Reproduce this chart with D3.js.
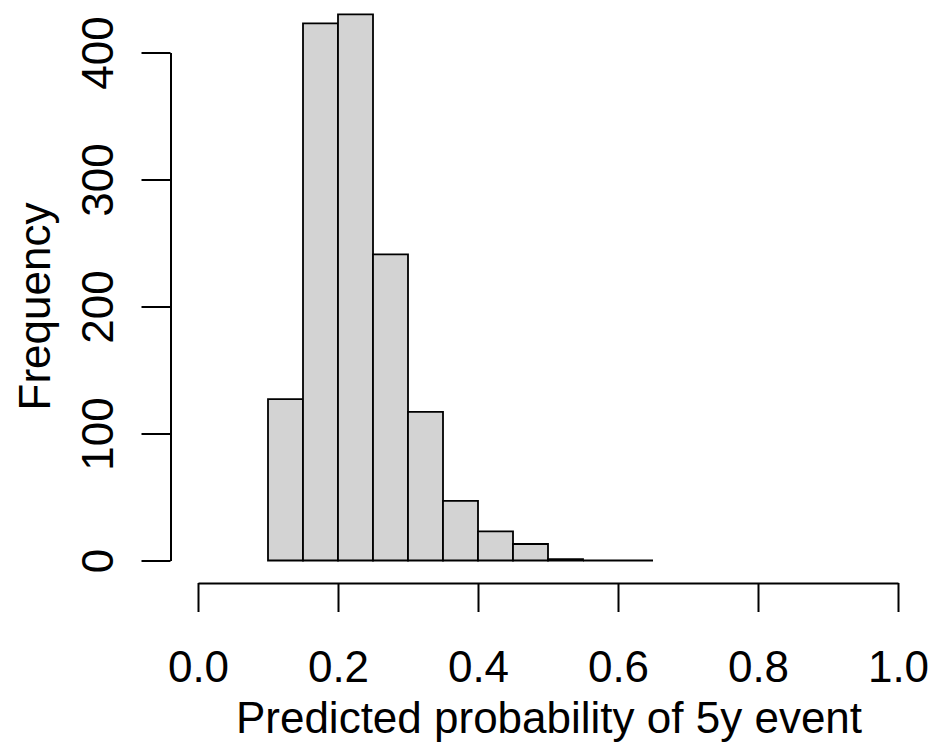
<!DOCTYPE html>
<html lang="en">
<head>
    <meta charset="UTF-8">
    <title>Predicted probability histogram</title>
    <style>
        body {
            margin: 0;
            background: #fff;
        }
        svg text {
            font-family: "Liberation Sans", Arial, sans-serif;
            fill: #000;
        }
    </style>
</head>
<body>
    <div id="chart"></div>
    <script src="https://d3js.org/d3.v7.min.js"></script>
    <script>
        // histogram bins (left edges, width 0.05) and counts
        var binStarts = [0.10, 0.15, 0.20, 0.25, 0.30, 0.35, 0.40, 0.45, 0.50, 0.55, 0.60];
        var counts    = [127, 423, 430, 241, 117, 47, 23, 13, 1, 0, 0];
        var binWidth  = 0.05;
        var xTicks = [0, 0.2, 0.4, 0.6, 0.8, 1.0];
        var yTicks = [0, 100, 200, 300, 400];

        var width = 935, height = 747;

        var svg = d3.select("#chart")
            .append("svg")
            .attr("width", width)
            .attr("height", height);

        var x = d3.scaleLinear().domain([0, 1]).range([198, 898]);
        var y = d3.scaleLinear().domain([0, 400]).range([560.5, 52.5]);

        var bins = binStarts.map((b, i) => ({x0: b, x1: b + binWidth, n: counts[i]}));

        // bars as closed paths so empty bins still show as a line (like R's hist)
        svg.selectAll("path.bar")
            .data(bins)
            .enter()
            .append("path")
            .attr("class", "bar")
            .attr("d", d => {
                var p = d3.path();
                p.moveTo(x(d.x0), y(0));
                p.lineTo(x(d.x0), y(d.n));
                p.lineTo(x(d.x1), y(d.n));
                p.lineTo(x(d.x1), y(0));
                p.closePath();
                return p.toString();
            })
            .attr("fill", "#d3d3d3")
            .attr("stroke", "#000")
            .attr("stroke-width", 1.8);

        // x axis (R style: detached, ticks pointing down)
        var xAxis = d3.axisBottom(x)
            .tickValues(xTicks)
            .tickSize(29)
            .tickSizeOuter(0)
            .tickFormat(d3.format(".1f"));

        var gx = svg.append("g")
            .attr("transform", "translate(0,583)")
            .call(xAxis);
        gx.select(".domain").attr("stroke", "#000").attr("stroke-width", 2);
        gx.selectAll(".tick line").attr("stroke", "#000").attr("stroke-width", 2);
        gx.selectAll(".tick text")
            .attr("y", 99)
            .attr("dy", null)
            .style("font-size", "44px");

        // y axis
        var yAxis = d3.axisLeft(y)
            .tickValues(yTicks)
            .tickSize(29)
            .tickSizeOuter(0);

        var gy = svg.append("g")
            .attr("transform", "translate(170.5,0)")
            .call(yAxis);
        gy.select(".domain").attr("stroke", "#000").attr("stroke-width", 2);
        gy.selectAll(".tick line").attr("stroke", "#000").attr("stroke-width", 2);
        gy.selectAll(".tick text")
            .attr("x", null)
            .attr("dy", null)
            .attr("text-anchor", "middle")
            .attr("transform", "translate(-58,0) rotate(-90)")
            .style("font-size", "44px");

        // axis titles
        svg.append("text")
            .attr("x", x(0.5) + 1)
            .attr("y", 733)
            .attr("text-anchor", "middle")
            .style("font-size", "44px")
            .text("Predicted probability of 5y event");

        svg.append("text")
            .attr("transform", "translate(50," + y(200) + ") rotate(-90)")
            .attr("text-anchor", "middle")
            .style("font-size", "44px")
            .text("Frequency");
    </script>
</body>
</html>
